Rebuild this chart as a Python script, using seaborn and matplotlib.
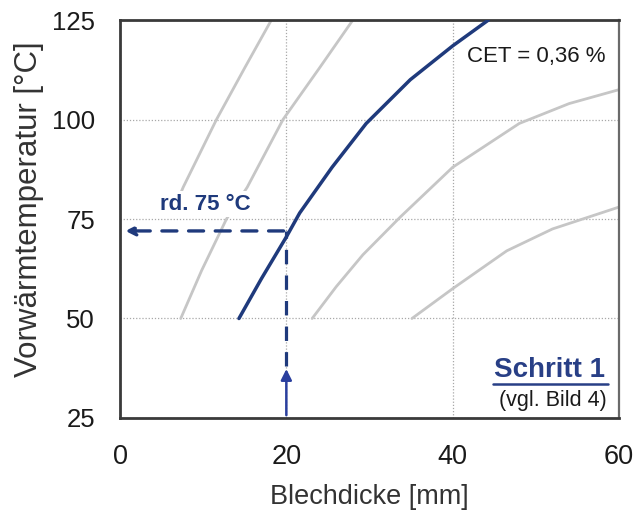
import matplotlib
matplotlib.use("Agg")
import matplotlib.pyplot as plt
import seaborn as sns
import pandas as pd
from matplotlib.lines import Line2D

sns.set_theme(style="white")
plt.rcParams['font.family'] = ['Liberation Sans', 'DejaVu Sans']

# ---- data ----
gray_b_x = [7.0, 7.6, 9.6, 11.6, 15.0, 18.2]
gray_b_y = [80, 83, 91.5, 100, 113, 125]
gray_a_x = [7.3, 9.8, 12.8, 15.3, 19.6, 24.0, 28.0]
gray_a_y = [50, 62, 75, 83, 100, 113, 125]
blue_x = [14.3, 17.0, 20.0, 21.6, 25.5, 29.6, 34.9, 40.0, 44.3]
blue_y = [50, 60, 70.5, 76.5, 88, 99, 110, 118.5, 125]
gray_c_x = [23.1, 26.0, 29.2, 33.7, 40.0, 48.0, 54.0, 60.0]
gray_c_y = [50, 58, 66, 75.5, 88, 99, 104, 107.5]
gray_d_x = [35.1, 40.0, 46.5, 52.0, 60.0]
gray_d_y = [50, 57.5, 67, 72.5, 78]

x_ticks = [0, 20, 40, 60]
y_ticks = [25, 50, 75, 100, 125]
read_thickness = 20
read_temp = 72
arrow_base = 38

navy = "#1f3a7c"
gray = "#c6c6c6"

fig = plt.figure(figsize=(6.36, 5.17), dpi=100)
ax = fig.add_axes([0.1887, 0.1915, 0.7846, 0.7698])

for gx, gy in [(gray_b_x, gray_b_y), (gray_a_x, gray_a_y), (gray_c_x, gray_c_y), (gray_d_x, gray_d_y)]:
    sns.lineplot(x=gx, y=gy, ax=ax, color=gray, linewidth=2.0, sort=False, zorder=2)
sns.lineplot(x=blue_x, y=blue_y, ax=ax, color=navy, linewidth=2.5, sort=False, zorder=4)

ax.set_xlim(x_ticks[0], x_ticks[-1])
ax.set_ylim(y_ticks[0], y_ticks[-1])
ax.set_xticks(x_ticks)
ax.set_yticks(y_ticks)
ax.grid(True, linestyle=(0, (1, 1.5)), color="#a8a8a8", linewidth=0.9)
ax.set_axisbelow(True)
ax.tick_params(axis="x", length=0, pad=19, labelsize=19.5, colors="#1a1a1a")
ax.tick_params(axis="y", length=0, pad=18, labelsize=18.5, colors="#1a1a1a")
for s in ax.spines.values():
    s.set_color("#3a3a3a")
    s.set_linewidth(2.0)
ax.spines['right'].set_color("#6a6a6a")
ax.spines['right'].set_linewidth(1.6)

ax.set_xlabel("Blechdicke [mm]", fontsize=19.5, color="#333333")
ax.xaxis.set_label_coords(0.5, -0.165)
ax.set_ylabel("Vorwärmtemperatur [°C]", fontsize=22.5, color="#333333")
ax.yaxis.set_label_coords(-0.152, 0.525)

# reading arrows
ax.annotate("", xy=(read_thickness, arrow_base), xytext=(read_thickness, y_ticks[0]),
            arrowprops=dict(arrowstyle="-|>", color="#2a3f9e", lw=1.8, mutation_scale=16), zorder=5)
ax.plot([read_thickness, read_thickness], [arrow_base, read_temp], color=navy, lw=2.3,
        linestyle=(0, (4.5, 3.5)), zorder=5)
ax.annotate("", xy=(0.3, read_temp), xytext=(read_thickness, read_temp),
            arrowprops=dict(arrowstyle="-|>", color=navy, lw=2.4, linestyle=(0, (4.5, 3.5)),
                            mutation_scale=14), zorder=5)

ax.text(10.3, 78.7, "rd. 75 °C", fontsize=16, fontweight="bold", color=navy,
        ha="center", va="center", zorder=3,
        bbox=dict(facecolor="white", edgecolor="none", pad=2))

ax.text(0.972, 0.909, "CET = 0,36 %", transform=ax.transAxes, fontsize=16, color="#1a1a1a",
        ha="right", va="center", zorder=6)
ax.text(0.972, 0.121, "Schritt 1", transform=ax.transAxes, fontsize=20, fontweight="bold",
        color="#283f86", ha="right", va="center")
ax.add_line(Line2D([0.747, 0.978], [0.086, 0.086], transform=ax.transAxes, color="#283f86", lw=1.8))
ax.text(0.976, 0.045, "(vgl. Bild 4)", transform=ax.transAxes, fontsize=15.5, color="#1a1a1a",
        ha="right", va="center")

fig.savefig("out.png", dpi=100)
